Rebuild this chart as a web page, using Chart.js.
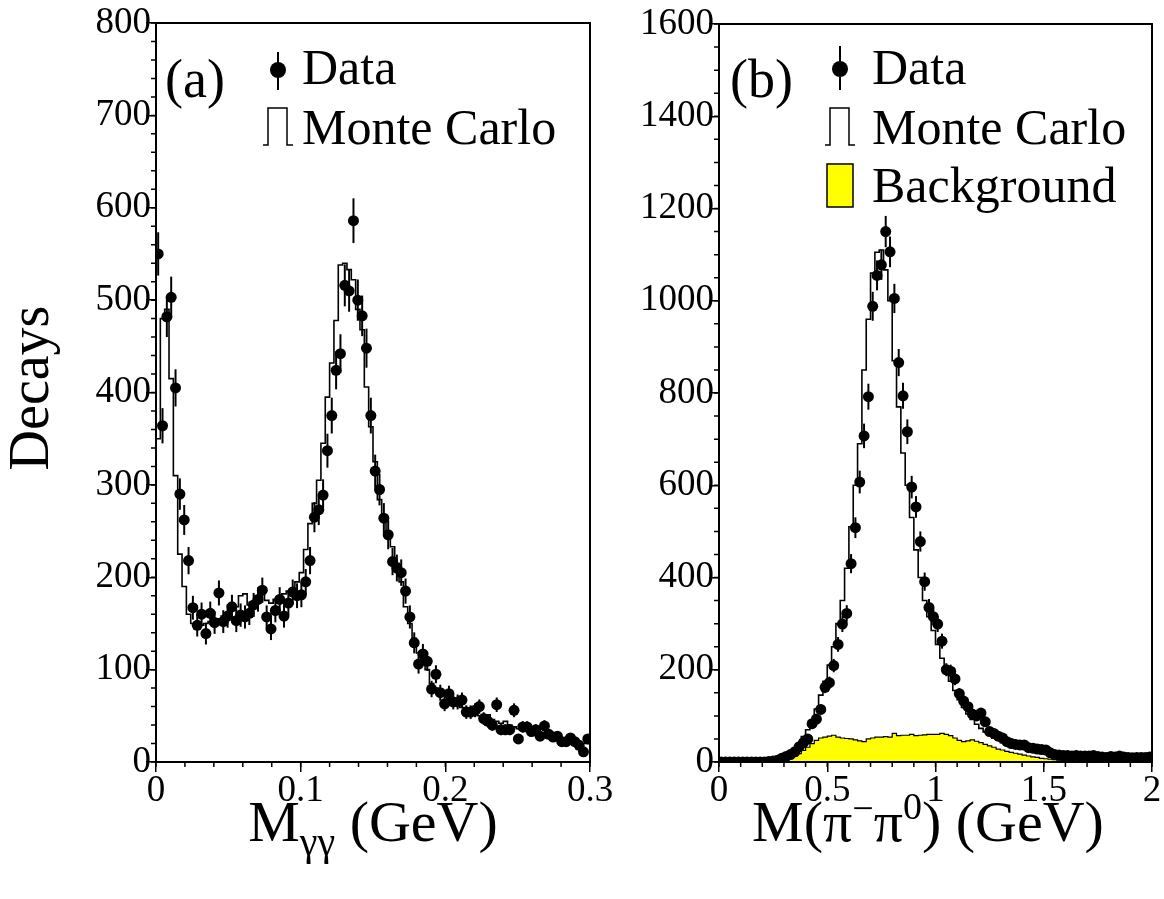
<!DOCTYPE html>
<html>
<head>
<meta charset="utf-8">
<script src="https://cdn.jsdelivr.net/npm/chart.js@4.4.1/dist/chart.umd.min.js"></script>
<style>
  html, body { margin: 0; padding: 0; background: #fff; }
  #wrap { position: relative; width: 1164px; height: 899px; }
  #left { position: absolute; left: 0; top: 0; }
  #right { position: absolute; left: 620px; top: 0; }
</style>
</head>
<body>
<div id="wrap">
  <canvas id="left" width="620" height="899"></canvas>
  <canvas id="right" width="544" height="899"></canvas>
</div>
<script>
// (a) M(gamma gamma): 100 bins of 3 MeV from 0 GeV
const mggLow = 0;
const mggBinWidth = 0.003;
const mggData = [
  550, 364, 482, 503, 405, 290, 262, 218, 167, 148,
  160, 139, 161, 151, 183, 152, 158, 168, 153, 159,
  157, 161, 170, 176, 186, 157, 144, 164, 176, 158,
  172, 184, 180, 181, 195, 218, 265, 273, 289, 337,
  375, 424, 442, 516, 510, 586, 500, 483, 448, 375,
  315, 295, 264, 246, 217, 210, 205, 185, 157, 129,
  106, 117, 109, 79, 95, 75, 63, 74, 65, 65,
  67, 54, 54, 56, 60, 47, 44, 40, 62, 35,
  35, 35, 56, 25, 38, 38, 33, 35, 28, 39,
  30, 27, 28, 22, 22, 26, 22, 18, 11, 25,
];
const mggMonteCarlo = [
  560, 350, 480, 490, 415, 310, 225, 190, 160, 150,
  150, 148, 150, 152, 155, 155, 158, 160, 165, 168,
  180, 182, 170, 168, 178, 183, 175, 172, 176, 180,
  182, 185, 188, 195, 205, 230, 258, 280, 305, 345,
  395, 432, 478, 538, 540, 533, 522, 490, 468, 406,
  363, 325, 284, 267, 246, 233, 215, 195, 168, 150,
  134, 118, 110, 100, 85, 80, 76, 72, 68, 65,
  62, 59, 56, 54, 52, 50, 48, 51, 46, 44,
  42, 44, 40, 38, 36, 35, 33, 32, 30, 29,
  28, 27, 26, 25, 24, 23, 22, 21, 20, 20,
];
const mggXTicks = [0, 0.1, 0.2, 0.3];
const mggYTicks = [0, 100, 200, 300, 400, 500, 600, 700, 800];

// (b) M(pi- pi0): 100 bins of 20 MeV from 0 GeV
const pipiLow = 0;
const pipiBinWidth = 0.02;
const pipiData = [
  0, 0, 0, 0, 0, 0, 0, 0, 0, 0,
  0, 1, 2, 4, 8, 12, 16, 22, 33, 42,
  50, 83, 93, 114, 162, 172, 209, 255, 299, 322,
  430, 508, 607, 707, 792, 988, 1055, 1078, 1150, 1106,
  1005, 866, 794, 716, 596, 553, 478, 391, 335, 315,
  299, 262, 200, 197, 180, 148, 132, 120, 104, 100,
  106, 87, 66, 62, 56, 52, 44, 40, 38, 37,
  37, 31, 30, 28, 27, 26, 20, 16, 15, 14,
  14, 13, 14, 13, 13, 13, 14, 12, 11, 10,
  12, 11, 13, 11, 10, 9, 10, 10, 10, 11,
];
const pipiMonteCarlo = [
  0, 0, 0, 0, 0, 0, 0, 0, 0, 0,
  0, 1, 2, 3, 6, 10, 15, 22, 30, 40,
  55, 70, 90, 115, 145, 175, 210, 250, 300, 350,
  420, 510, 600, 690, 850, 960, 1060, 1105, 1110, 1067,
  1000, 870, 770, 670, 600, 530, 460, 400, 350, 315,
  285, 255, 225, 200, 175, 155, 135, 118, 104, 92,
  82, 73, 65, 58, 52, 47, 42, 38, 35, 32,
  29, 27, 25, 23, 21, 19, 18, 17, 16, 15,
  14, 14, 13, 13, 12, 12, 12, 11, 11, 11,
  10, 10, 10, 10, 9, 9, 9, 9, 9, 9,
];
const pipiBackground = [
  0, 0, 0, 0, 0, 0, 0, 0, 0, 0,
  0, 0, 0, 0, 2, 4, 6, 8, 12, 18,
  25, 32, 40, 47, 52, 54, 56, 58, 54, 52,
  51, 50, 48, 46, 44, 50, 52, 54, 54, 55,
  54, 62, 57, 58, 58, 60, 57, 58, 59, 60,
  60, 60, 62, 60, 57, 52, 47, 44, 46, 48,
  45, 42, 38, 35, 32, 28, 26, 23, 21, 19,
  17, 15, 13, 11, 10, 8, 7, 6, 5, 4,
  3, 2, 2, 2, 2, 2, 2, 2, 2, 2,
  1, 1, 1, 1, 1, 1, 1, 1, 1, 1,
];
const pipiXTicks = [0, 0.5, 1, 1.5, 2];
const pipiYTicks = [0, 200, 400, 600, 800, 1000, 1200, 1400, 1600];

const serif = "Liberation Serif";

const pointsAtCentres = (values, low, width) =>
  values.map((v, i) => ({ x: low + (i + 0.5) * width, y: v }));

function stepsAtEdges(values, low, width) {
  const pts = values.map((v, i) => ({ x: low + i * width, y: v }));
  pts.push({ x: low + values.length * width, y: values[values.length - 1] });
  return pts;
}

// poisson error bars (sqrt N) on the data points
const errorBars = {
  id: "errorBars",
  afterDatasetsDraw(chart) {
    const ctx = chart.ctx;
    const yScale = chart.scales.y;
    chart.data.datasets.forEach((ds, di) => {
      if (!ds.poisson) return;
      const meta = chart.getDatasetMeta(di);
      ctx.save();
      ctx.strokeStyle = "#000";
      ctx.lineWidth = 2;
      meta.data.forEach((pt, i) => {
        const n = ds.data[i].y;
        const err = Math.sqrt(n);
        if (!err) return;
        ctx.beginPath();
        ctx.moveTo(pt.x, yScale.getPixelForValue(n - err));
        ctx.lineTo(pt.x, yScale.getPixelForValue(n + err));
        ctx.stroke();
      });
      ctx.restore();
    });
  },
};

const frameAndMinor = {
  id: "frameAndMinor",
  afterDraw(chart, args, opts) {
    const { ctx, chartArea: a, scales } = chart;
    const each = (scale, step, fn) => {
      const n = Math.round((scale.max - scale.min) / step);
      for (let j = 0; j <= n; j++) fn(scale.getPixelForValue(scale.min + j * step));
    };
    ctx.save();
    ctx.strokeStyle = "#000";
    ctx.lineWidth = 1.5;
    ctx.beginPath();
    each(scales.x, opts.x, (px) => {
      ctx.moveTo(px, a.bottom);
      ctx.lineTo(px, a.bottom + 5);
    });
    each(scales.y, opts.y, (py) => {
      ctx.moveTo(a.left, py);
      ctx.lineTo(a.left - 5, py);
    });
    ctx.stroke();
    ctx.lineWidth = 2;
    ctx.strokeRect(a.left, a.top, a.right - a.left, a.bottom - a.top);
    ctx.restore();
  },
};

function richText(ctx, parts, cx, baseline) {
  const widths = parts.map((p) => {
    ctx.font = `${p.size}px "${serif}"`;
    return ctx.measureText(p.text).width;
  });
  let x = cx - widths.reduce((s, w) => s + w, 0) / 2;
  parts.forEach((p, i) => {
    ctx.font = `${p.size}px "${serif}"`;
    ctx.fillText(p.text, x, baseline + (p.dy || 0));
    x += widths[i];
  });
}

// tag, legend and axis titles
const panelText = {
  id: "panelText",
  afterDraw(chart, args, o) {
    const { ctx, chartArea: a } = chart;
    const L = a.left;
    ctx.save();
    ctx.fillStyle = "#000";
    ctx.strokeStyle = "#000";
    ctx.textAlign = "left";
    ctx.textBaseline = "alphabetic";

    ctx.font = `54px "${serif}"`;
    ctx.fillText(o.tag, L + o.tagX, 97);

    // data marker
    ctx.lineWidth = 2;
    ctx.beginPath();
    ctx.moveTo(L + o.markX, o.dataTop);
    ctx.lineTo(L + o.markX, 90);
    ctx.stroke();
    ctx.beginPath();
    ctx.arc(L + o.markX, o.dataY, 8, 0, Math.PI * 2);
    ctx.fill();

    // monte carlo marker
    const m = L + o.markX;
    ctx.lineWidth = 1.5;
    ctx.beginPath();
    ctx.moveTo(m - 15, 145);
    ctx.lineTo(m - 10, 145);
    ctx.lineTo(m - 10, 108);
    ctx.lineTo(m + 9, 108);
    ctx.lineTo(m + 9, 145);
    ctx.lineTo(m + 15, 145);
    ctx.stroke();

    ctx.font = `50px "${serif}"`;
    ctx.fillText("Data", L + o.textX, 84);
    ctx.fillText("Monte Carlo", L + o.textX, 144);

    if (o.background) {
      ctx.fillStyle = "#ffff00";
      ctx.fillRect(m - 13, 164, 26, 43);
      ctx.strokeRect(m - 13, 164, 26, 43);
      ctx.fillStyle = "#000";
      ctx.fillText("Background", L + o.textX, 202);
    }

    richText(ctx, o.xTitle, o.xTitleX, 841);

    if (o.yTitle) {
      ctx.save();
      ctx.translate(48, 388);
      ctx.rotate(-Math.PI / 2);
      ctx.textAlign = "left";
      ctx.font = `56px "${serif}"`;
      const w = ctx.measureText(o.yTitle).width;
      ctx.fillText(o.yTitle, -w / 2, 0);
      ctx.restore();
    }
    ctx.restore();
  },
};

function makeAxis(min, max, ticks, size) {
  return {
    type: "linear",
    min,
    max,
    afterBuildTicks: (scale) => {
      scale.ticks = ticks.map((v) => ({ value: v }));
    },
    afterFit: (scale) => {
      if (scale.isHorizontal()) scale.height = size;
      else scale.width = size;
    },
    border: { display: true, color: "#000", width: 2 },
    grid: { display: true, drawOnChartArea: false, drawTicks: true, tickLength: 10, color: "#000", lineWidth: 1.5 },
    ticks: {
      color: "#000",
      font: { family: serif, size: 37 },
      padding: 0,
      maxRotation: 0,
      autoSkip: false,
      callback: (v) => String(v),
    },
  };
}

function histogramChart(canvasId, cfg) {
  const datasets = [
    {
      label: "Data",
      data: pointsAtCentres(cfg.data, cfg.low, cfg.width),
      showLine: false,
      pointRadius: 5.5,
      pointBackgroundColor: "#000",
      pointBorderWidth: 0,
      poisson: true,
      order: 0,
    },
    {
      label: "Monte Carlo",
      data: stepsAtEdges(cfg.mc, cfg.low, cfg.width),
      stepped: "after",
      borderColor: "#000",
      borderWidth: 1.6,
      pointRadius: 0,
      fill: false,
      order: 1,
    },
  ];
  if (cfg.background) {
    datasets.push({
      label: "Background",
      data: stepsAtEdges(cfg.background, cfg.low, cfg.width),
      stepped: "after",
      borderColor: "#000",
      borderWidth: 1.2,
      backgroundColor: "#ffff00",
      pointRadius: 0,
      fill: "origin",
      order: 2,
    });
  }

  const x = makeAxis(cfg.xTicks[0], cfg.xTicks[cfg.xTicks.length - 1], cfg.xTicks, 137);
  x.ticks.padding = -3;
  const y = makeAxis(cfg.yTicks[0], cfg.yTicks[cfg.yTicks.length - 1], cfg.yTicks, cfg.yWidth);
  y.ticks.padding = -5;

  return new Chart(document.getElementById(canvasId), {
    type: "line",
    data: { datasets },
    options: {
      responsive: false,
      animation: false,
      events: [],
      layout: { padding: cfg.padding },
      scales: { x, y },
      plugins: {
        legend: { display: false },
        tooltip: { enabled: false },
        frameAndMinor: cfg.minor,
        panelText: cfg.text,
      },
    },
    plugins: [errorBars, frameAndMinor, panelText],
  });
}

histogramChart("left", {
  low: mggLow,
  width: mggBinWidth,
  data: mggData,
  mc: mggMonteCarlo,
  xTicks: mggXTicks,
  yTicks: mggYTicks,
  yWidth: 156,
  padding: { left: 0, right: 30, top: 23, bottom: 0 },
  minor: { x: 0.02, y: 20 },
  text: {
    tag: "(a)",
    tagX: 9,
    markX: 122,
    dataY: 70,
    dataTop: 52,
    textX: 146,
    background: false,
    xTitle: [
      { text: "M", size: 58 },
      { text: "γγ", size: 40, dy: 14 },
      { text: " (GeV)", size: 58 },
    ],
    xTitleX: 373,
    yTitle: "Decays",
  },
});

histogramChart("right", {
  low: pipiLow,
  width: pipiBinWidth,
  data: pipiData,
  mc: pipiMonteCarlo,
  background: pipiBackground,
  xTicks: pipiXTicks,
  yTicks: pipiYTicks,
  yWidth: 99,
  padding: { left: 0, right: 12, top: 24, bottom: 0 },
  minor: { x: 0.1, y: 50 },
  text: {
    tag: "(b)",
    tagX: 11,
    markX: 121,
    dataY: 69,
    dataTop: 46,
    textX: 153,
    background: true,
    xTitle: [
      { text: "M(π", size: 58 },
      { text: "−", size: 38, dy: -20 },
      { text: "π", size: 58 },
      { text: "0", size: 38, dy: -22 },
      { text: ") (GeV)", size: 58 },
    ],
    xTitleX: 308,
  },
});
</script>
</body>
</html>
